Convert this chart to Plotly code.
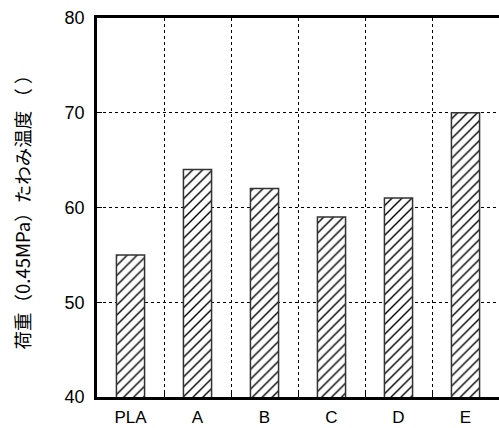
import plotly.graph_objects as go

categories = ["PLA", "A", "B", "C", "D", "E"]
values = [55, 64, 62, 59, 61, 70]
y_ticks = [40, 50, 60, 70, 80]
y_title = "荷重（0.45MPa）たわみ温度 （ ）"

font_main = "Liberation Sans, Arial, Noto Sans CJK JP, sans-serif"

fig = go.Figure(
    go.Bar(
        x=categories,
        y=values,
        width=0.42,
        marker=dict(
            color="white",
            line=dict(color="#333333", width=1.5),
            pattern=dict(shape="/", fgcolor="black", bgcolor="white", fgopacity=1,
                         size=7, solidity=0.2),
        ),
    )
)

fig.update_layout(
    width=499,
    height=428,
    margin=dict(l=97, r=0, t=18, b=31, autoexpand=False),
    paper_bgcolor="white",
    plot_bgcolor="white",
    showlegend=False,
    font=dict(family=font_main, size=17, color="black"),
)

fig.update_xaxes(
    type="category",
    tickson="boundaries",
    automargin=False,
    showgrid=True,
    gridcolor="black",
    gridwidth=1,
    griddash="dot",
    ticks="inside",
    ticklen=5,
    tickcolor="black",
    showline=True,
    linecolor="black",
    linewidth=2.5,
    mirror=True,
    ticklabelstandoff=3,
    tickfont=dict(size=17),
)

fig.update_yaxes(
    range=[40, 80],
    tickvals=y_ticks,
    automargin=False,
    showgrid=True,
    gridcolor="black",
    gridwidth=1,
    griddash="dot",
    ticks="inside",
    ticklen=5,
    tickcolor="black",
    showline=True,
    linecolor="black",
    linewidth=2.5,
    zeroline=False,
    ticklabelstandoff=6,
    tickfont=dict(size=18),
    title=dict(text=y_title, font=dict(family="Noto Sans CJK JP, Liberation Sans, sans-serif", size=18.5), standoff=30),
)

fig.write_html(
    "out.html",
    config={"displayModeBar": False},
    post_script="document.body.style.margin='0px';document.body.style.overflow='hidden';",
)
